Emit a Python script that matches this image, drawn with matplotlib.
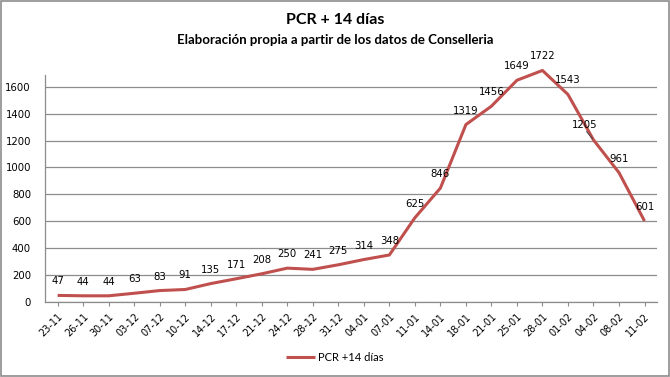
import numpy as np
from matplotlib import pyplot as plt
from matplotlib.patches import Rectangle


fechas = ["23-11", "26-11", "30-11", "03-12", "07-12", "10-12", "14-12", "17-12",
          "21-12", "24-12", "28-12", "31-12", "04-01", "07-01", "11-01", "14-01",
          "18-01", "21-01", "25-01", "28-01", "01-02", "04-02", "08-02", "11-02"]
pcr_14 = [47, 44, 44, 63, 83, 91, 135, 171, 208, 250, 241, 275, 314, 348,
          625, 846, 1319, 1456, 1649, 1722, 1543, 1205, 961, 601]
y_ticks = [0, 200, 400, 600, 800, 1000, 1200, 1400, 1600]

RED = "#C0504D"
GRID = "#8C8C8C"

fig = plt.figure(figsize=(6.7, 3.77), dpi=100)
ax = fig.add_axes([0.067, 0.1997, 0.914, 0.602])

x = np.arange(len(fechas))
ax.plot(x, pcr_14, color=RED, lw=2.2, solid_capstyle="butt", label="PCR +14 días",
        zorder=3, clip_on=False)

for i, v in enumerate(pcr_14):
    if v == 1205:
        ax.annotate(str(v), (i, v), xytext=(-6, 7), textcoords="offset points",
                    ha="center", va="bottom", fontsize=7.3, family="DejaVu Sans",
                    annotation_clip=False)
        ax.annotate("", (i, v), xytext=(-5, 6), textcoords="offset points",
                    arrowprops=dict(arrowstyle="-", color="#444444", lw=0.7,
                                    shrinkA=0, shrinkB=1))
    else:
        ax.annotate(str(v), (i, v), xytext=(0, 6.5), textcoords="offset points",
                    ha="center", va="bottom", fontsize=7.3, family="DejaVu Sans",
                    annotation_clip=False)

ax.set_xlim(-0.5, len(fechas) - 0.5)
ax.set_ylim(0, 1690)
ax.set_yticks(y_ticks)
ax.set_xticks(x)
ax.set_xticklabels(fechas, rotation=45, ha="right", rotation_mode="anchor",
                   fontsize=7, family="DejaVu Sans")
ax.tick_params(axis="y", labelsize=7.3, length=0, pad=10)
ax.tick_params(axis="x", length=3, color=GRID, pad=4)
ax.yaxis.grid(True, color=GRID, lw=0.9)
ax.set_axisbelow(True)
for s in ("top", "right"):
    ax.spines[s].set_visible(False)
for s in ("left", "bottom"):
    ax.spines[s].set_color(GRID)
    ax.spines[s].set_linewidth(0.9)

fig.text(0.5, 0.948, "PCR + 14 días", ha="center", va="center",
         fontsize=11.5, fontweight="bold", family="Lato")
fig.text(0.5, 0.893, "Elaboración propia a partir de los datos de Conselleria",
         ha="center", va="center", fontsize=9.5, fontweight="bold", family="Lato")

fig.legend(loc="center", bbox_to_anchor=(0.5, 0.052), frameon=False,
           prop={"family": "Lato", "size": 8}, handlelength=2.6, handletextpad=0.3)

fig.patches.append(Rectangle((0.002, 0.003), 0.996, 0.994, transform=fig.transFigure,
                             fill=False, edgecolor="#8C8C8C", lw=1.2))

plt.savefig("out.png", dpi=100)
